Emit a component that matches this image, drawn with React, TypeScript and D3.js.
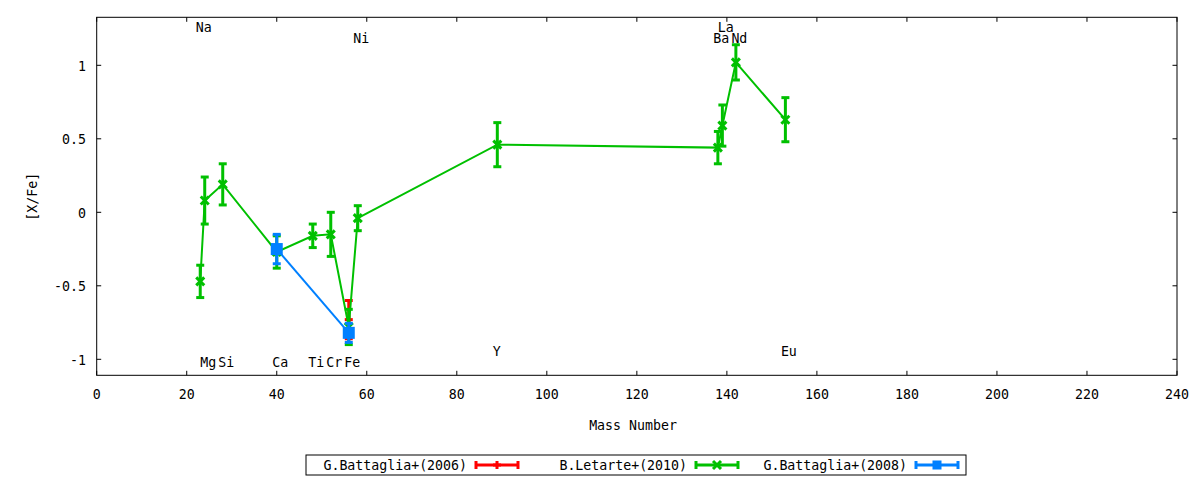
import * as d3 from 'd3';

// Letarte+ (2010) abundances
const elements = ['Na', 'Mg', 'Si', 'Ca', 'Ti', 'Cr', 'Fe', 'Ni', 'Y', 'Ba', 'La', 'Nd', 'Eu'];
const masses = [23, 24, 28, 40, 48, 52, 56, 58, 89, 138, 139, 142, 153];
const letarteVal = [-0.47, 0.08, 0.19, -0.27, -0.16, -0.15, -0.78, -0.04, 0.46, 0.44, 0.59, 1.02, 0.63];
const letarteErr = [0.11, 0.16, 0.14, 0.11, 0.08, 0.15, 0.12, 0.085, 0.15, 0.11, 0.14, 0.12, 0.15];

// Battaglia+ (2006): Fe only
const bat06Mass = [56];
const bat06Val = [-0.73];
const bat06Err = [0.13];

// Battaglia+ (2008): Ca, Fe
const bat08Mass = [40, 56];
const bat08Val = [-0.25, -0.82];
const bat08Err = [0.1, 0.065];

// element labels (x = mass - 1, y in data units)
const labelY = [1.26, -1.02, -1.02, -1.02, -1.02, -1.02, -1.02, 1.187, -0.94, 1.187, 1.26, 1.187, -0.94];

const xTicks = [0, 20, 40, 60, 80, 100, 120, 140, 160, 180, 200, 220, 240];
const yTicks = [-1, -0.5, 0, 0.5, 1];

const legendNames = ['G.Battaglia+(2006)', 'B.Letarte+(2010)', 'G.Battaglia+(2008)'];
const RED = '#ff0000';
const GREEN = '#00c000';
const BLUE = '#0080ff';
const legendColors = [RED, GREEN, BLUE];
const legendMarks = ['plus', 'cross', 'square'];

const W = 1200;
const H = 480;
const left = 96.7, right = 1177, top = 17.3, bottom = 375.3;

const x = d3.scaleLinear().domain([0, 240]).range([left, right]);
const y = d3.scaleLinear().domain([-1.1088, 1.3265]).range([bottom, top]);

function T({ x, y, anchor = 'start', rotate = 0, children }: any) {
  return (
    <g transform={`translate(${x},${y}) rotate(${rotate}) scale(0.915,1)`}>
      <text textAnchor={anchor} dominantBaseline="central" fontFamily="DejaVu Sans Mono" fontSize={14.5} fill="#000">
        {children}
      </text>
    </g>
  );
}

function Marker({ cx, cy, kind, color }: any) {
  if (kind === 'square') return <rect x={cx - 4.5} y={cy - 4.5} width={9} height={9} fill={color} />;
  if (kind === 'plus')
    return (
      <g stroke={color} strokeWidth={3}>
        <line x1={cx - 4} x2={cx + 4} y1={cy} y2={cy} />
        <line x1={cx} x2={cx} y1={cy - 4} y2={cy + 4} />
      </g>
    );
  return (
    <g stroke={color} strokeWidth={3}>
      <line x1={cx - 4} x2={cx + 4} y1={cy - 4} y2={cy + 4} />
      <line x1={cx - 4} x2={cx + 4} y1={cy + 4} y2={cy - 4} />
    </g>
  );
}

function Series({ ms, vs, es, color, kind }: any) {
  const line = d3.line<number>().x((_, i) => x(ms[i])).y((v) => y(v));
  return (
    <g>
      <path d={line(vs) || ''} fill="none" stroke={color} strokeWidth={2} />
      {vs.map((v: number, i: number) => {
        const cx = x(ms[i]);
        const y1 = y(v + es[i]);
        const y2 = y(v - es[i]);
        return (
          <g key={i} stroke={color} strokeWidth={3}>
            <line x1={cx} x2={cx} y1={y1} y2={y2} />
            <line x1={cx - 4} x2={cx + 4} y1={y1} y2={y1} />
            <line x1={cx - 4} x2={cx + 4} y1={y2} y2={y2} />
            <Marker cx={cx} cy={y(v)} kind={kind} color={color} />
          </g>
        );
      })}
    </g>
  );
}

export default function App() {
  const legL = 306, legT = 455, legB = 475, entryW = 220;
  return (
    <>
      <style>{'body{margin:0}'}</style>
      <svg width={W} height={H} style={{ display: 'block', background: '#fff' }}>
        {/* ticks */}
        <g stroke="#000" strokeWidth={1}>
          {xTicks.map((t) => (
            <g key={'x' + t}>
              <line x1={x(t)} x2={x(t)} y1={bottom} y2={bottom - 4.5} />
              <line x1={x(t)} x2={x(t)} y1={top} y2={top + 4.5} />
            </g>
          ))}
          {yTicks.map((t) => (
            <g key={'y' + t}>
              <line x1={left} x2={left + 4.5} y1={y(t)} y2={y(t)} />
              <line x1={right} x2={right - 4.5} y1={y(t)} y2={y(t)} />
            </g>
          ))}
        </g>
        {xTicks.map((t) => (
          <T key={'xl' + t} x={x(t)} y={394} anchor="middle">{String(t)}</T>
        ))}
        {yTicks.map((t) => (
          <T key={'yl' + t} x={86} y={y(t)} anchor="end">{String(t)}</T>
        ))}
        <T x={633} y={425} anchor="middle">Mass Number</T>
        <T x={32} y={196.7} anchor="middle" rotate={-90}>[X/Fe]</T>

        {elements.map((e, i) => (
          <T key={'el' + e} x={x(masses[i] - 1)} y={y(labelY[i])}>{e}</T>
        ))}

        <Series ms={bat06Mass} vs={bat06Val} es={bat06Err} color={RED} kind="plus" />
        <Series ms={masses} vs={letarteVal} es={letarteErr} color={GREEN} kind="cross" />
        <Series ms={bat08Mass} vs={bat08Val} es={bat08Err} color={BLUE} kind="square" />

        <rect x={left} y={top} width={right - left} height={bottom - top} fill="none" stroke="#000" strokeWidth={1} />

        {/* legend */}
        <rect x={legL} y={legT} width={entryW * 3} height={legB - legT} fill="none" stroke="#000" strokeWidth={1} />
        {legendNames.map((n, i) => {
          const tx = legL + 161 + entryW * i;
          const sx1 = tx + 9, sx2 = tx + 51, cy = (legT + legB) / 2;
          const c = legendColors[i];
          return (
            <g key={n}>
              <T x={tx} y={cy} anchor="end">{n}</T>
              <g stroke={c} strokeWidth={3}>
                <line x1={sx1} x2={sx2} y1={cy} y2={cy} />
                <line x1={sx1} x2={sx1} y1={cy - 4} y2={cy + 4} />
                <line x1={sx2} x2={sx2} y1={cy - 4} y2={cy + 4} />
              </g>
              <Marker cx={(sx1 + sx2) / 2} cy={cy} kind={legendMarks[i]} color={c} />
            </g>
          );
        })}
      </svg>
    </>
  );
}
